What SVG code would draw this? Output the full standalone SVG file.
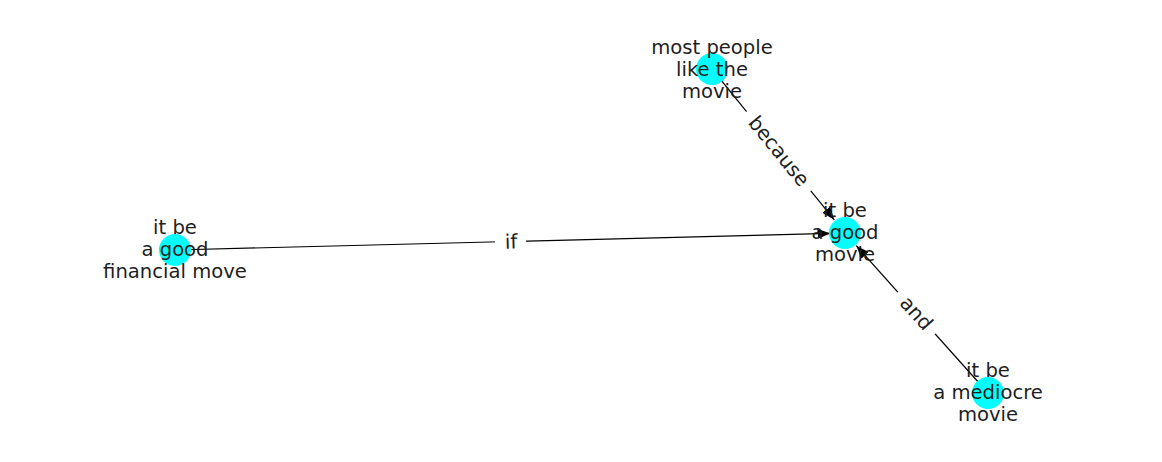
<svg xmlns="http://www.w3.org/2000/svg" width="1162" height="462" viewBox="0 0 1162 462">
<style>
text{font-family:"DejaVu Sans","Liberation Sans",sans-serif;font-size:19.6px;fill:#1e1e1e;text-anchor:middle}
.lbl text{font-size:20px}
.node circle{fill:#00ffff}
.edge line{stroke:#000;stroke-width:1.2}
.lbl rect{fill:#fff}
</style>
<defs>
<marker id="ah" markerUnits="userSpaceOnUse" markerWidth="14" markerHeight="11" refX="13" refY="5" orient="auto">
<path d="M0,0 L13,5 L0,10 z" fill="#000"/>
</marker>
</defs>
<rect width="1162" height="462" fill="#fff"/>
<g id="connectors">
<g class="edge"><line x1="712" y1="69" x2="834.3" y2="219.8" marker-end="url(#ah)"/></g>
<g class="edge"><line x1="175" y1="250" x2="830.5" y2="233.4" marker-end="url(#ah)"/></g>
<g class="edge"><line x1="988" y1="393" x2="856.3" y2="245.7" marker-end="url(#ah)"/></g>
<g class="lbl" transform="translate(779,151) rotate(51)"><rect x="-51" y="-12" width="102" height="24"/><text y="7">because</text></g>
<g class="lbl" transform="translate(511,241.5) rotate(-1.45)"><rect x="-16" y="-12" width="31" height="24"/><text y="7">if</text></g>
<g class="lbl" transform="translate(916.5,313) rotate(48)"><rect x="-28" y="-12" width="56" height="24"/><text y="7">and</text></g>
</g>
<g id="n1" class="node"><circle cx="712" cy="69" r="16"/><text x="712" y="53.5">most people</text><text x="712" y="75.5">like the</text><text x="712" y="97.5">movie</text></g>
<g id="n2" class="node"><circle cx="175" cy="250" r="16"/><text x="175" y="234">it be</text><text x="175" y="256">a good</text><text x="175" y="278">financial move</text></g>
<g id="n3" class="node"><circle cx="845" cy="233" r="16"/><text x="845" y="217">it be</text><text x="845" y="239">a good</text><text x="845" y="261">movie</text></g>
<g id="n4" class="node"><circle cx="988" cy="393" r="16"/><text x="988" y="377">it be</text><text x="988" y="399">a mediocre</text><text x="988" y="421">movie</text></g>
</svg>
